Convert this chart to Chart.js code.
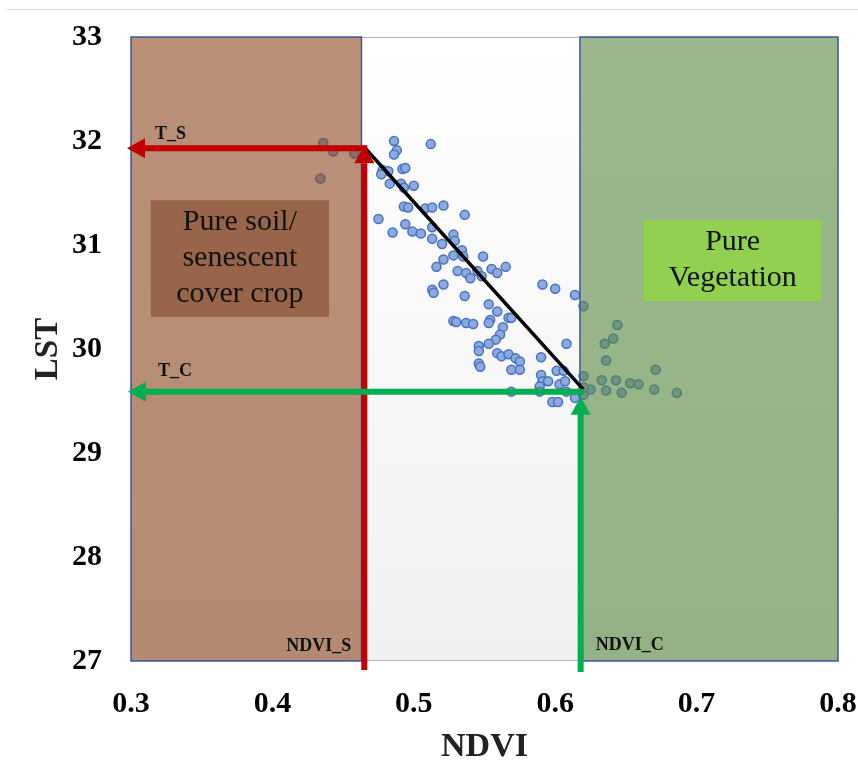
<!DOCTYPE html>
<html>
<head>
<meta charset="utf-8">
<script src="https://cdn.jsdelivr.net/npm/chart.js@4.4.1/dist/chart.umd.min.js"></script>
<style>
  html, body { margin: 0; padding: 0; background: #fff; }
  #wrap { position: relative; width: 858px; height: 780px; }
  #rule { position: absolute; left: 7px; right: 0; top: 9px; height: 1px; background: #d6d6d6; }
</style>
</head>
<body>
<div id="wrap">
  <canvas id="chart" width="858" height="780"></canvas>
  <div id="rule"></div>
</div>
<script>
// pixel observations
const ndvi = [
  0.436, 0.443, 0.458, 0.434, 0.486, 0.512, 0.488, 0.486, 0.478, 0.482,
  0.477, 0.492, 0.494, 0.483, 0.491, 0.493, 0.500, 0.493, 0.496, 0.508,
  0.513, 0.521, 0.475, 0.494, 0.499, 0.505, 0.485, 0.513, 0.513, 0.520,
  0.528, 0.529, 0.528, 0.521, 0.536, 0.534, 0.535, 0.549, 0.516, 0.531,
  0.537, 0.540, 0.545, 0.548, 0.555, 0.559, 0.565, 0.521, 0.513, 0.514,
  0.536, 0.591, 0.600, 0.614, 0.553, 0.559, 0.528, 0.530, 0.537, 0.542,
  0.554, 0.553, 0.567, 0.569, 0.563, 0.620, 0.561, 0.558, 0.553, 0.546,
  0.546, 0.644, 0.641, 0.635, 0.608, 0.559, 0.562, 0.567, 0.572, 0.575,
  0.590, 0.636, 0.546, 0.547, 0.569, 0.575, 0.601, 0.606, 0.590, 0.591,
  0.595, 0.603, 0.607, 0.589, 0.589, 0.608, 0.569, 0.620, 0.633, 0.643,
  0.625, 0.636, 0.620, 0.614, 0.598, 0.602, 0.671, 0.653, 0.659, 0.670,
  0.686, 0.647, 0.620
];
const lst = [
  31.98, 31.90, 31.88, 31.64, 32.00, 31.97, 31.91, 31.87, 31.72, 31.71,
  31.68, 31.73, 31.74, 31.59, 31.59, 31.55, 31.57, 31.37, 31.36, 31.35,
  31.36, 31.38, 31.25, 31.20, 31.13, 31.11, 31.12, 31.17, 31.06, 31.01,
  31.10, 31.04, 30.90, 30.86, 31.29, 30.95, 30.89, 30.89, 30.79, 30.75,
  30.73, 30.68, 30.75, 30.70, 30.77, 30.73, 30.79, 30.62, 30.57, 30.54,
  30.51, 30.62, 30.58, 30.52, 30.43, 30.36, 30.27, 30.26, 30.25, 30.24,
  30.28, 30.25, 30.30, 30.30, 30.21, 30.41, 30.14, 30.09, 30.05, 30.03,
  29.98, 30.23, 30.10, 30.05, 30.05, 29.96, 29.93, 29.95, 29.91, 29.88,
  29.92, 29.89, 29.86, 29.83, 29.80, 29.80, 29.79, 29.79, 29.75, 29.69,
  29.69, 29.66, 29.69, 29.64, 29.59, 29.59, 29.59, 29.74, 29.70, 29.70,
  29.61, 29.60, 29.56, 29.53, 29.49, 29.49, 29.80, 29.67, 29.66, 29.61,
  29.58, 29.58, 29.63
];

// dry edge (black line)
const edgeNdvi = [0.465, 0.620];
const edgeLst = [31.94, 29.61];

// end-member values
const ndviS = 0.465, ndviC = 0.618;
const tS = 31.93, tC = 29.59;
const soilEnd = 0.463, vegStart = 0.6175;

const xTicks = [0.3, 0.4, 0.5, 0.6, 0.7, 0.8];
const yTicks = [27, 28, 29, 30, 31, 32, 33];

const SERIF = '"Liberation Serif", "DejaVu Serif", serif';

function arrow(ctx, x1, y1, x2, y2, color) {
  const ang = Math.atan2(y2 - y1, x2 - x1);
  const head = 18, half = 10;
  const bx = x2 - head * Math.cos(ang), by = y2 - head * Math.sin(ang);
  ctx.strokeStyle = color;
  ctx.lineWidth = 6;
  ctx.lineCap = 'butt';
  ctx.beginPath();
  ctx.moveTo(x1, y1);
  ctx.lineTo(bx, by);
  ctx.stroke();
  ctx.fillStyle = color;
  ctx.beginPath();
  ctx.moveTo(x2, y2);
  ctx.lineTo(bx + half * Math.sin(ang), by - half * Math.cos(ang));
  ctx.lineTo(bx - half * Math.sin(ang), by + half * Math.cos(ang));
  ctx.closePath();
  ctx.fill();
}

function labelBox(ctx, x, y, x0, x1, y0, y1, fill, lines, lh) {
  const l = x.getPixelForValue(x0), r = x.getPixelForValue(x1);
  const t = y.getPixelForValue(y0), b = y.getPixelForValue(y1);
  ctx.fillStyle = fill;
  ctx.fillRect(l, t, r - l, b - t);
  ctx.fillStyle = '#111';
  ctx.font = '30px ' + SERIF;
  ctx.textAlign = 'center';
  ctx.textBaseline = 'middle';
  const cy = (t + b) / 2 - (lines.length - 1) * lh / 2;
  lines.forEach((s, i) => ctx.fillText(s, (l + r) / 2, cy + i * lh));
}

const zones = {
  id: 'zones',
  beforeDatasetsDraw(chart) {
    const { ctx, chartArea: a } = chart;
    ctx.save();
    const g = ctx.createLinearGradient(0, a.top, 0, a.bottom);
    g.addColorStop(0, '#ffffff');
    g.addColorStop(1, '#f0f0f0');
    ctx.fillStyle = g;
    ctx.fillRect(a.left, a.top, a.right - a.left, a.bottom - a.top);
    ctx.strokeStyle = '#b0b0b0';
    ctx.lineWidth = 1;
    ctx.strokeRect(a.left + 0.5, a.top + 0.5, a.right - a.left - 1, a.bottom - a.top - 1);
    ctx.restore();
  },
  afterDatasetDraw(chart, args) {
    if (args.index !== 0) return;
    const { ctx, chartArea: a, scales: { x } } = chart;
    const xs = x.getPixelForValue(soilEnd), xv = x.getPixelForValue(vegStart);
    ctx.save();
    ctx.fillStyle = 'rgba(140, 70, 30, 0.6)';
    ctx.fillRect(a.left, a.top, xs - a.left, a.bottom - a.top);
    ctx.fillStyle = 'rgba(88, 135, 63, 0.6)';
    ctx.fillRect(xv, a.top, a.right - xv, a.bottom - a.top);
    ctx.strokeStyle = '#3a5ca6';
    ctx.lineWidth = 1.5;
    ctx.strokeRect(a.left, a.top, xs - a.left, a.bottom - a.top);
    ctx.strokeRect(xv, a.top, a.right - xv, a.bottom - a.top);
    ctx.restore();
  },
  afterDatasetsDraw(chart) {
    const { ctx, chartArea: a, scales: { x, y } } = chart;
    ctx.save();
    labelBox(ctx, x, y, 0.314, 0.440, 31.43, 30.31, '#98654a',
      ['Pure soil/', 'senescent', 'cover crop'], 36);
    labelBox(ctx, x, y, 0.6625, 0.7885, 31.24, 30.46, '#92d050',
      ['Pure', 'Vegetation'], 36);

    const xS = x.getPixelForValue(ndviS), xC = x.getPixelForValue(ndviC);
    const yS = y.getPixelForValue(tS), yC = y.getPixelForValue(tC);
    arrow(ctx, xS + 3, yS, a.left - 4, yS, '#c00000');
    arrow(ctx, xS, a.bottom + 9, xS, yS - 3, '#c00000');
    arrow(ctx, xC + 3, yC, a.left - 3, yC, '#00b050');
    arrow(ctx, xC, a.bottom + 11, xC, yC + 5, '#00b050');

    ctx.fillStyle = '#111';
    ctx.font = 'bold 18px ' + SERIF;
    ctx.textBaseline = 'middle';
    ctx.textAlign = 'left';
    ctx.fillText('T_S', a.left + 24, yS - 14);
    ctx.fillText('T_C', a.left + 27, yC - 20);
    ctx.fillText('NDVI_C', xC + 15, a.bottom - 16);
    ctx.textAlign = 'right';
    ctx.fillText('NDVI_S', xS - 13, a.bottom - 15);
    ctx.restore();
  }
};

new Chart(document.getElementById('chart'), {
  type: 'scatter',
  data: {
    datasets: [
      {
        label: 'Pixels',
        data: ndvi.map((v, i) => ({ x: v, y: lst[i] })),
        backgroundColor: '#8eaadc',
        borderColor: '#4472c4',
        borderWidth: 1.5,
        pointRadius: 4.5,
        order: 2
      },
      {
        type: 'line',
        label: 'Dry edge',
        data: edgeNdvi.map((v, i) => ({ x: v, y: edgeLst[i] })),
        borderColor: '#000',
        borderWidth: 3.5,
        pointRadius: 0,
        fill: false,
        order: 1
      }
    ]
  },
  options: {
    responsive: false,
    animation: false,
    devicePixelRatio: 1,
    layout: { padding: { top: 37, right: 20, bottom: 0, left: 0 } },
    plugins: { legend: { display: false }, tooltip: { enabled: false } },
    scales: {
      x: {
        type: 'linear',
        min: 0.3,
        max: 0.8,
        afterBuildTicks: s => { s.ticks = xTicks.map(v => ({ value: v })); },
        afterFit: s => { s.height = 119; s.paddingLeft = 0; s.paddingRight = 0; },
        grid: { display: false, drawTicks: false },
        border: { display: false },
        ticks: {
          padding: 25,
          color: '#000',
          font: { family: SERIF, size: 30, weight: 'bold' },
          callback: v => v.toFixed(1)
        },
        title: {
          display: true,
          text: 'NDVI',
          color: '#222',
          font: { family: SERIF, size: 34, weight: 'bold' },
          padding: { top: 0, bottom: 12 }
        }
      },
      y: {
        type: 'linear',
        min: 27,
        max: 33,
        afterBuildTicks: s => { s.ticks = yTicks.map(v => ({ value: v })); },
        afterFit: s => { s.width = 131; s.paddingTop = 0; s.paddingBottom = 0; },
        grid: { display: false, drawTicks: false },
        border: { display: false },
        ticks: {
          padding: 29,
          color: '#000',
          font: { family: SERIF, size: 30, weight: 'bold' },
          callback: v => String(v)
        },
        title: {
          display: true,
          text: 'LST',
          color: '#222',
          font: { family: SERIF, size: 33, weight: 'bold' },
          padding: { top: 29, bottom: 0 }
        }
      }
    }
  },
  plugins: [zones]
});
</script>
</body>
</html>
